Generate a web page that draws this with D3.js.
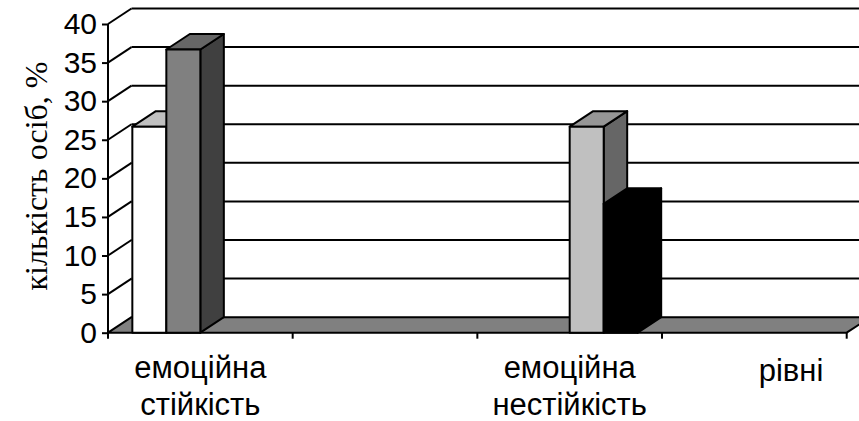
<!DOCTYPE html>
<html>
<head>
<meta charset="utf-8">
<script src="https://cdn.jsdelivr.net/npm/d3@7"></script>
<style>
  html, body { margin: 0; padding: 0; background: #ffffff; }
  svg { display: block; }
</style>
</head>
<body>
<svg id="chart" width="859" height="421"></svg>
<script>
// Categories along the floor (the 2nd and 4th slots carry no bars)
const categories = ["емоційна стійкість", "", "емоційна нестійкість", ""];
const categoryLines = [["емоційна", "стійкість"], [], ["емоційна", "нестійкість"], []];

// One series per bar slot inside each category
const seriesNames = ["s1", "s2", "s3", "s4"];
const s1 = [26.7, 0, 0, 0];
const s2 = [36.7, 0, 0, 0];
const s3 = [0, 0, 26.7, 0];
const s4 = [0, 0, 16.7, 0];
const seriesValues = [s1, s2, s3, s4];

const yTicks = [0, 5, 10, 15, 20, 25, 30, 35, 40];
const yTitle = "кількість осіб, %";
const xTitle = "рівні";

// front face, top face, side face colours per series
const seriesColors = [
  { front: "#ffffff", top: "#c0c0c0", side: "#808080" },
  { front: "#808080", top: "#666666", side: "#404040" },
  { front: "#c0c0c0", top: "#969696", side: "#666666" },
  { front: "#000000", top: "#000000", side: "#000000" }
];

const svg = d3.select("#chart");

// Oblique depth offset of the back wall / bar depth
const DX = 23.5, DY = -15.5;

const x = d3.scaleBand().domain(d3.range(categories.length)).range([108, 846.7]).paddingInner(0).paddingOuter(0);
const y = d3.scaleLinear().domain([0, 40]).range([332.7, 24]);

const slotWidth = 34;
const inner = d3.scaleBand().domain(seriesNames)
  .range([-slotWidth * 2, slotWidth * 2]).paddingInner(0).paddingOuter(0);

const x0 = x.range()[0], x1 = x.range()[1];
const stroke = "#000";
const sw = 2;

// Back wall gridlines
const gBack = svg.append("g");
gBack.selectAll("line.grid")
  .data(yTicks.filter(t => t > 0))
  .join("line")
  .attr("x1", x0 + DX).attr("x2", x1 + DX + 20)
  .attr("y1", d => y(d) + DY).attr("y2", d => y(d) + DY)
  .attr("stroke", stroke).attr("stroke-width", sw);

// Side wall diagonals
gBack.selectAll("line.diag")
  .data(yTicks.filter(t => t > 0))
  .join("line")
  .attr("x1", x0).attr("x2", x0 + DX)
  .attr("y1", d => y(d)).attr("y2", d => y(d) + DY)
  .attr("stroke", stroke).attr("stroke-width", sw);

// Floor
const floorPts = [
  [x0, y(0)], [x0 + DX, y(0) + DY], [x1 + DX, y(0) + DY], [x1, y(0)]
];
svg.append("path")
  .attr("d", d3.line()(floorPts) + "Z")
  .attr("fill", "#808080")
  .attr("stroke", stroke).attr("stroke-width", sw)
  .attr("stroke-linejoin", "round");

// Bars (drawn left to right so that right-hand bars cover left sides)
const bars = [];
categories.forEach((c, ci) => {
  seriesNames.forEach((s, si) => {
    const v = seriesValues[si][ci];
    if (v > 0) {
      const cx = x(ci) + x.bandwidth() / 2;
      bars.push({ left: cx + inner(s), w: inner.bandwidth(), v, col: seriesColors[si] });
    }
  });
});
bars.sort((a, b) => a.left - b.left);

const gBars = svg.append("g").attr("stroke", stroke).attr("stroke-width", sw).attr("stroke-linejoin", "round");
bars.forEach(b => {
  const L = b.left, R = b.left + b.w, T = y(b.v), B = y(0);
  const g = gBars.append("g");
  // side face
  g.append("path")
    .attr("d", d3.line()([[R, T], [R + DX, T + DY], [R + DX, B + DY], [R, B]]) + "Z")
    .attr("fill", b.col.side);
  // top face
  g.append("path")
    .attr("d", d3.line()([[L, T], [L + DX, T + DY], [R + DX, T + DY], [R, T]]) + "Z")
    .attr("fill", b.col.top);
  // front face
  g.append("rect")
    .attr("x", L).attr("y", T).attr("width", b.w).attr("height", B - T)
    .attr("fill", b.col.front);
});

// Value axis
const yAxis = svg.append("g")
  .attr("transform", `translate(${x0},0)`)
  .call(d3.axisLeft(y).tickValues(yTicks).tickSize(6).tickPadding(5));
yAxis.select(".domain").attr("stroke", stroke).attr("stroke-width", sw).attr("d", `M0,${y(40)}V${y(0)}`);
yAxis.selectAll(".tick line").attr("stroke", stroke).attr("stroke-width", sw);
yAxis.selectAll(".tick text")
  .attr("font-family", "Arial, 'Liberation Sans', sans-serif")
  .attr("font-size", 30).attr("fill", "#000");

// Category axis: ticks at band boundaries
const bounds = d3.range(categories.length + 1).map(i => i < categories.length ? x(i) : x1);
svg.append("g").selectAll("line")
  .data(bounds)
  .join("line")
  .attr("x1", d => d).attr("x2", d => d)
  .attr("y1", y(0)).attr("y2", y(0) + 6)
  .attr("stroke", stroke).attr("stroke-width", sw);

// Category labels
const gLab = svg.append("g")
  .attr("font-family", "Arial, 'Liberation Sans', sans-serif")
  .attr("font-size", 31).attr("fill", "#000").attr("text-anchor", "middle");
categoryLines.forEach((lines, ci) => {
  if (!lines.length) return;
  const t = gLab.append("text").attr("x", x(ci) + x.bandwidth() / 2).attr("y", 378);
  lines.forEach((ln, li) => {
    t.append("tspan").attr("x", x(ci) + x.bandwidth() / 2).attr("y", 378 + li * 37).text(ln);
  });
});

// Axis titles
svg.append("text")
  .attr("x", 791).attr("y", 381)
  .attr("text-anchor", "middle")
  .attr("font-family", "Arial, 'Liberation Sans', sans-serif")
  .attr("font-size", 31).attr("fill", "#000")
  .text(xTitle);

svg.append("text")
  .attr("transform", "translate(47,176) rotate(-90)")
  .attr("text-anchor", "middle")
  .attr("font-family", "'Times New Roman', 'Liberation Serif', serif")
  .attr("font-size", 32).attr("fill", "#000")
  .text(yTitle);
</script>
</body>
</html>
